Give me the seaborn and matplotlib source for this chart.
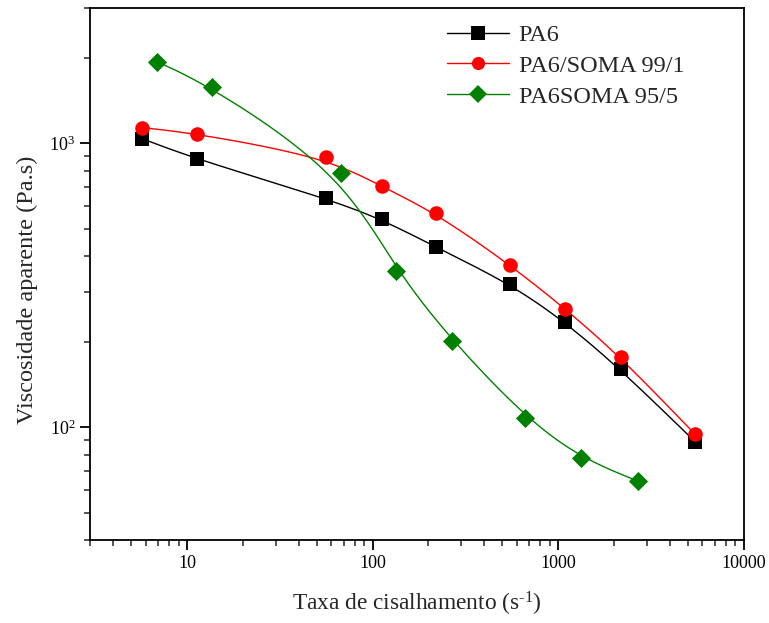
"""Viscosidade aparente x taxa de cisalhamento (PA6 / SOMA)"""
import numpy as np
import pandas as pd
import matplotlib
matplotlib.use("Agg")
import matplotlib.pyplot as plt
import seaborn as sns
from matplotlib.ticker import LogLocator, FuncFormatter, NullFormatter, LogFormatterSciNotation

# data
pa6_rate = [5.7, 11.3, 56, 112, 220, 553, 1090, 2170, 5470]
pa6_visc = [1041, 879, 641, 541, 431, 320, 235, 160, 89]

soma1_rate = [5.7, 11.3, 56, 112, 220, 553, 1090, 2170, 5470]
soma1_visc = [1138, 1084, 893, 706, 568, 373, 262, 177, 94.5]

soma5_rate = [6.9, 13.6, 68, 134, 268, 667, 1327, 2680]
soma5_visc = [1941, 1585, 785, 356, 202, 108, 77.8, 64.7]

labels = ["PA6", "PA6/SOMA 99/1", "PA6SOMA 95/5"]
colors = ["black", "red", "green"]
markers = ["s", "o", "D"]


def bspline(x, y, n=30):
    # clamped uniform cubic B-spline in log-log space (connecting line only)
    lx = np.log10(x)
    ly = np.log10(y)
    px = np.concatenate([[lx[0]] * 2, lx, [lx[-1]] * 2])
    py = np.concatenate([[ly[0]] * 2, ly, [ly[-1]] * 2])
    t = np.linspace(0, 1, n)
    b0 = (1 - t) ** 3 / 6
    b1 = (3 * t ** 3 - 6 * t ** 2 + 4) / 6
    b2 = (-3 * t ** 3 + 3 * t ** 2 + 3 * t + 1) / 6
    b3 = t ** 3 / 6
    xs, ys = [], []
    for i in range(len(px) - 3):
        xs.append(b0 * px[i] + b1 * px[i + 1] + b2 * px[i + 2] + b3 * px[i + 3])
        ys.append(b0 * py[i] + b1 * py[i + 1] + b2 * py[i + 2] + b3 * py[i + 3])
    return 10 ** np.concatenate(xs), 10 ** np.concatenate(ys)


sns.set_style("ticks")
plt.rcParams['font.family'] = ['Liberation Serif', 'DejaVu Serif']
plt.rcParams['mathtext.fontset'] = 'custom'
plt.rcParams['mathtext.rm'] = 'Liberation Serif'
plt.rcParams['mathtext.it'] = 'Liberation Serif:italic'

fig = plt.figure(figsize=(7.69, 6.23), dpi=100)
ax = fig.add_axes([0.117, 0.133, 0.850, 0.854])

series = [(pa6_rate, pa6_visc), (soma1_rate, soma1_visc), (soma5_rate, soma5_visc)]
handles = []
for (xr, yv), lab, c, m in zip(series, labels, colors, markers):
    xs, ys = bspline(xr, yv)
    sns.lineplot(x=xs, y=ys, color=c, lw=1.0, sort=False, ax=ax, legend=False)
    df = pd.DataFrame({"x": xr, "y": yv})
    sns.scatterplot(data=df, x="x", y="y", marker=m, color=c, s=110 if m != "D" else 95,
                    edgecolor=c, linewidth=0, zorder=3, ax=ax, legend=False)
    h, = ax.plot([], [], color=c, lw=1.0, marker=m, markersize=9.5 if m != "D" else 9,
                 markeredgewidth=0)
    handles.append(h)

ax.set_xscale("log")
ax.set_yscale("log")
ax.set_xlim(3, 10000)
ax.set_ylim(40, 3000)

ax.xaxis.set_major_locator(LogLocator(base=10, numticks=10))
ax.xaxis.set_minor_locator(LogLocator(base=10, subs=np.arange(2, 10), numticks=10))
ax.xaxis.set_major_formatter(FuncFormatter(lambda v, p: f"{v:g}"))
ax.xaxis.set_minor_formatter(NullFormatter())
ax.yaxis.set_major_locator(LogLocator(base=10, numticks=10))
ax.yaxis.set_minor_locator(LogLocator(base=10, subs=np.arange(2, 10), numticks=10))
ax.yaxis.set_major_formatter(LogFormatterSciNotation())
ax.yaxis.set_minor_formatter(NullFormatter())

for s in ax.spines.values():
    s.set_linewidth(1.3)
    s.set_color("black")
ax.tick_params(which="major", direction="out", length=7, width=1.3, labelsize=13,
               top=False, right=False, colors="black")
ax.tick_params(which="minor", direction="out", length=4, width=1.1,
               top=False, right=False)

ax.set_xlabel(r"Taxa de cisalhamento (s$^{\text{-}1}$)", fontsize=16.8)
ax.set_ylabel("Viscosidade aparente (Pa.s)", fontsize=17.5)
ax.xaxis.set_label_coords(0.5, -0.094)
ax.yaxis.set_label_coords(-0.08, 0.47)

ax.legend(handles, labels, loc="upper left", bbox_to_anchor=(0.546, 0.97), frameon=False,
          fontsize=17.5, handlelength=2.55, handletextpad=0.4, labelspacing=0.36,
          borderaxespad=0, borderpad=0)

plt.savefig("out.png", dpi=100)
